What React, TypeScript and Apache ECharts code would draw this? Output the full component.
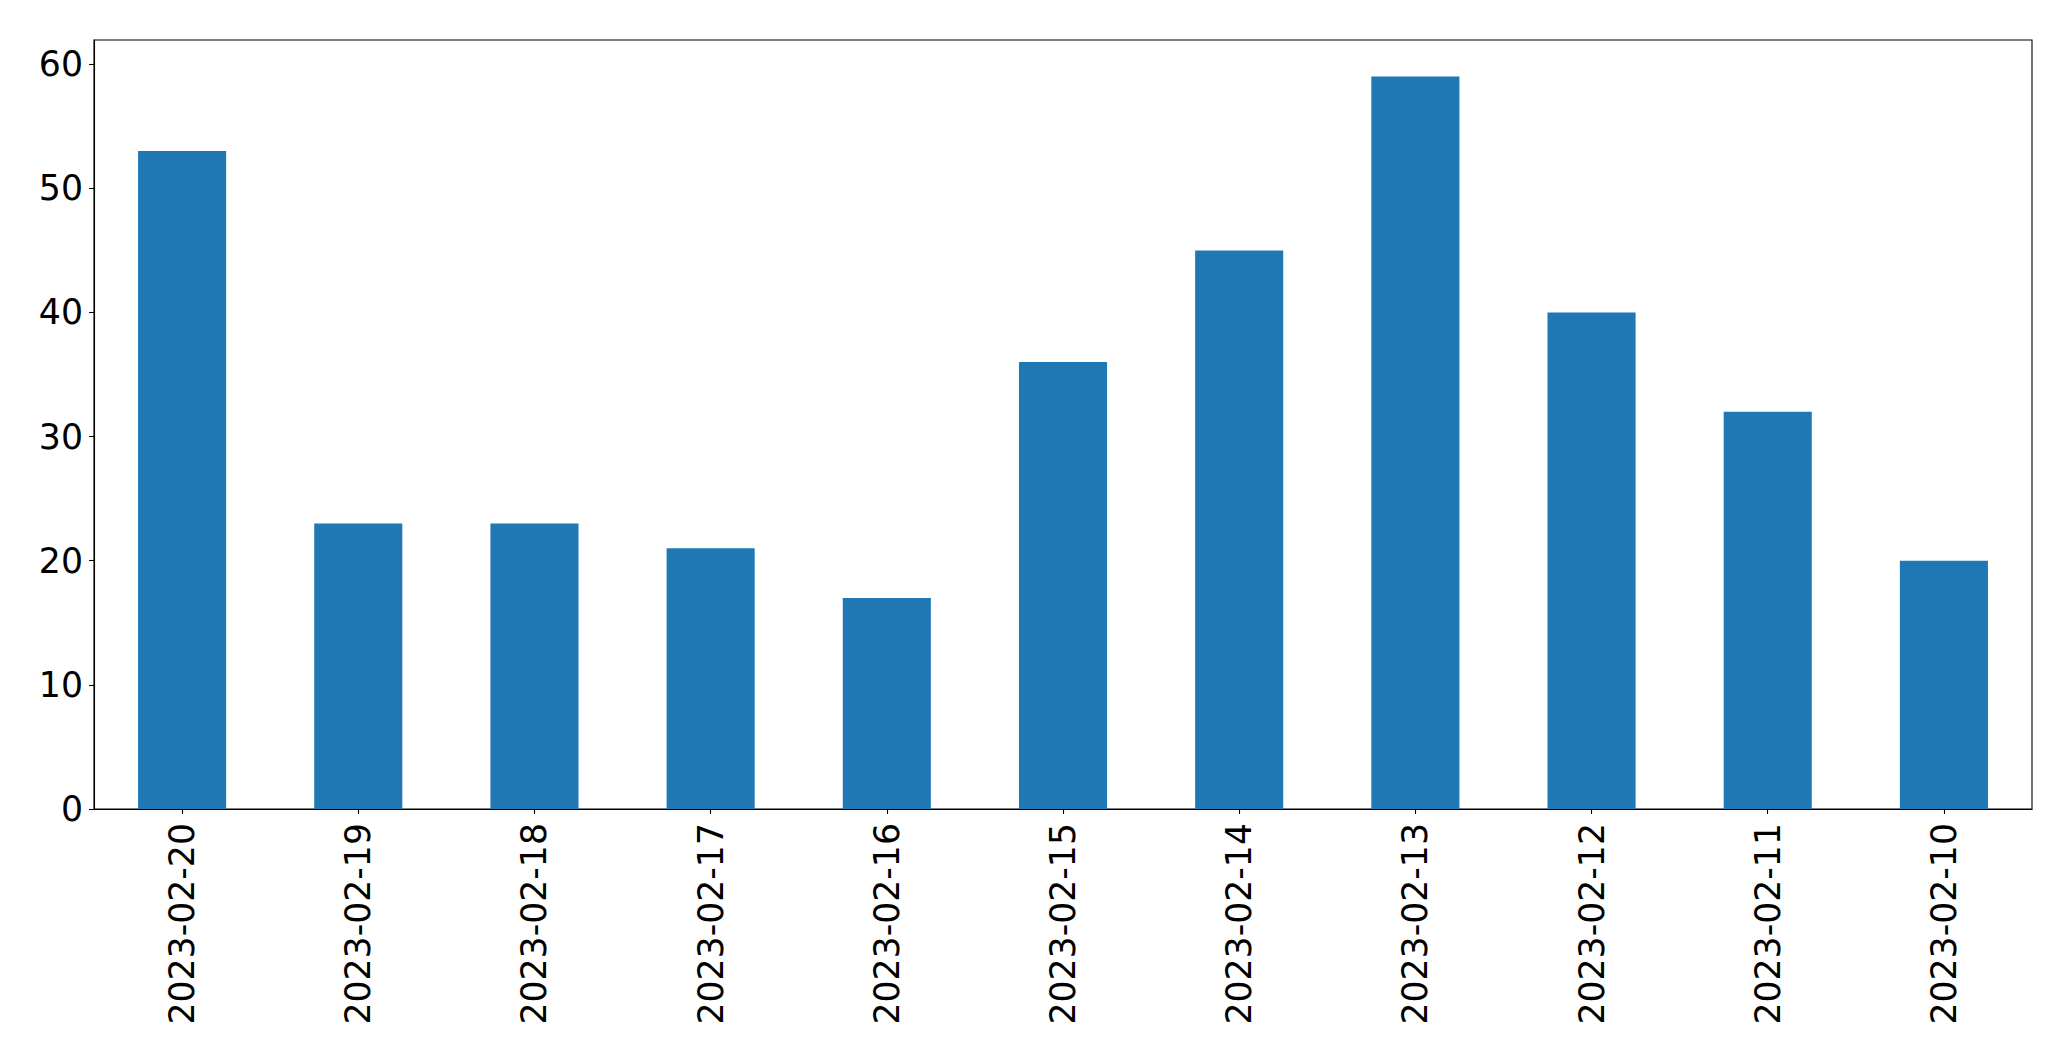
import React, { useEffect, useRef } from "react";
import * as echarts from "echarts";

const categories = [
  "2023-02-20", "2023-02-19", "2023-02-18", "2023-02-17", "2023-02-16", "2023-02-15",
  "2023-02-14", "2023-02-13", "2023-02-12", "2023-02-11", "2023-02-10",
];
const values = [53, 23, 23, 21, 17, 36, 45, 59, 40, 32, 20];
const yTicks = [0, 10, 20, 30, 40, 50, 60];
const yMax = 61.95;

export default function App() {
  const ref = useRef<HTMLDivElement>(null);
  useEffect(() => {
    if (!ref.current) return;
    const chart = echarts.init(ref.current, null, { renderer: "svg" });
    const font = "DejaVu Sans";
    chart.setOption({
      animation: false,
      backgroundColor: "#ffffff",
      grid: {
        left: 94,
        right: 39,
        top: 40,
        bottom: 252,
        show: true,
        borderColor: "#000000",
        borderWidth: 1.1,
        containLabel: false,
      },
      xAxis: {
        type: "category",
        data: categories,
        boundaryGap: true,
        axisLine: { show: true, lineStyle: { color: "#000000", width: 1.1 } },
        axisTick: { show: true, alignWithLabel: true, length: 5, lineStyle: { color: "#000000", width: 1.1 } },
        axisLabel: {
          rotate: 90,
          margin: 14,
          fontSize: 34.7,
          fontFamily: font,
          color: "#000000",
          interval: 0,
        },
        splitLine: { show: false },
      },
      yAxis: {
        type: "value",
        min: 0,
        max: yMax,
        axisLine: { show: true, lineStyle: { color: "#000000", width: 1.1 } },
        axisTick: { show: true, length: 5, customValues: yTicks, lineStyle: { color: "#000000", width: 1.1 } },
        axisLabel: {
          customValues: yTicks,
          margin: 11,
          fontSize: 34.7,
          fontFamily: font,
          color: "#000000",
        },
        splitLine: { show: false },
      },
      series: [
        {
          type: "bar",
          data: values,
          barWidth: "50%",
          itemStyle: { color: "#1f77b4" },
        },
      ],
    });
    return () => chart.dispose();
  }, []);
  return (
    <div
      ref={ref}
      style={{ position: "fixed", left: 0, top: 0, width: "2071px", height: "1061px", background: "#fff" }}
    />
  );
}
